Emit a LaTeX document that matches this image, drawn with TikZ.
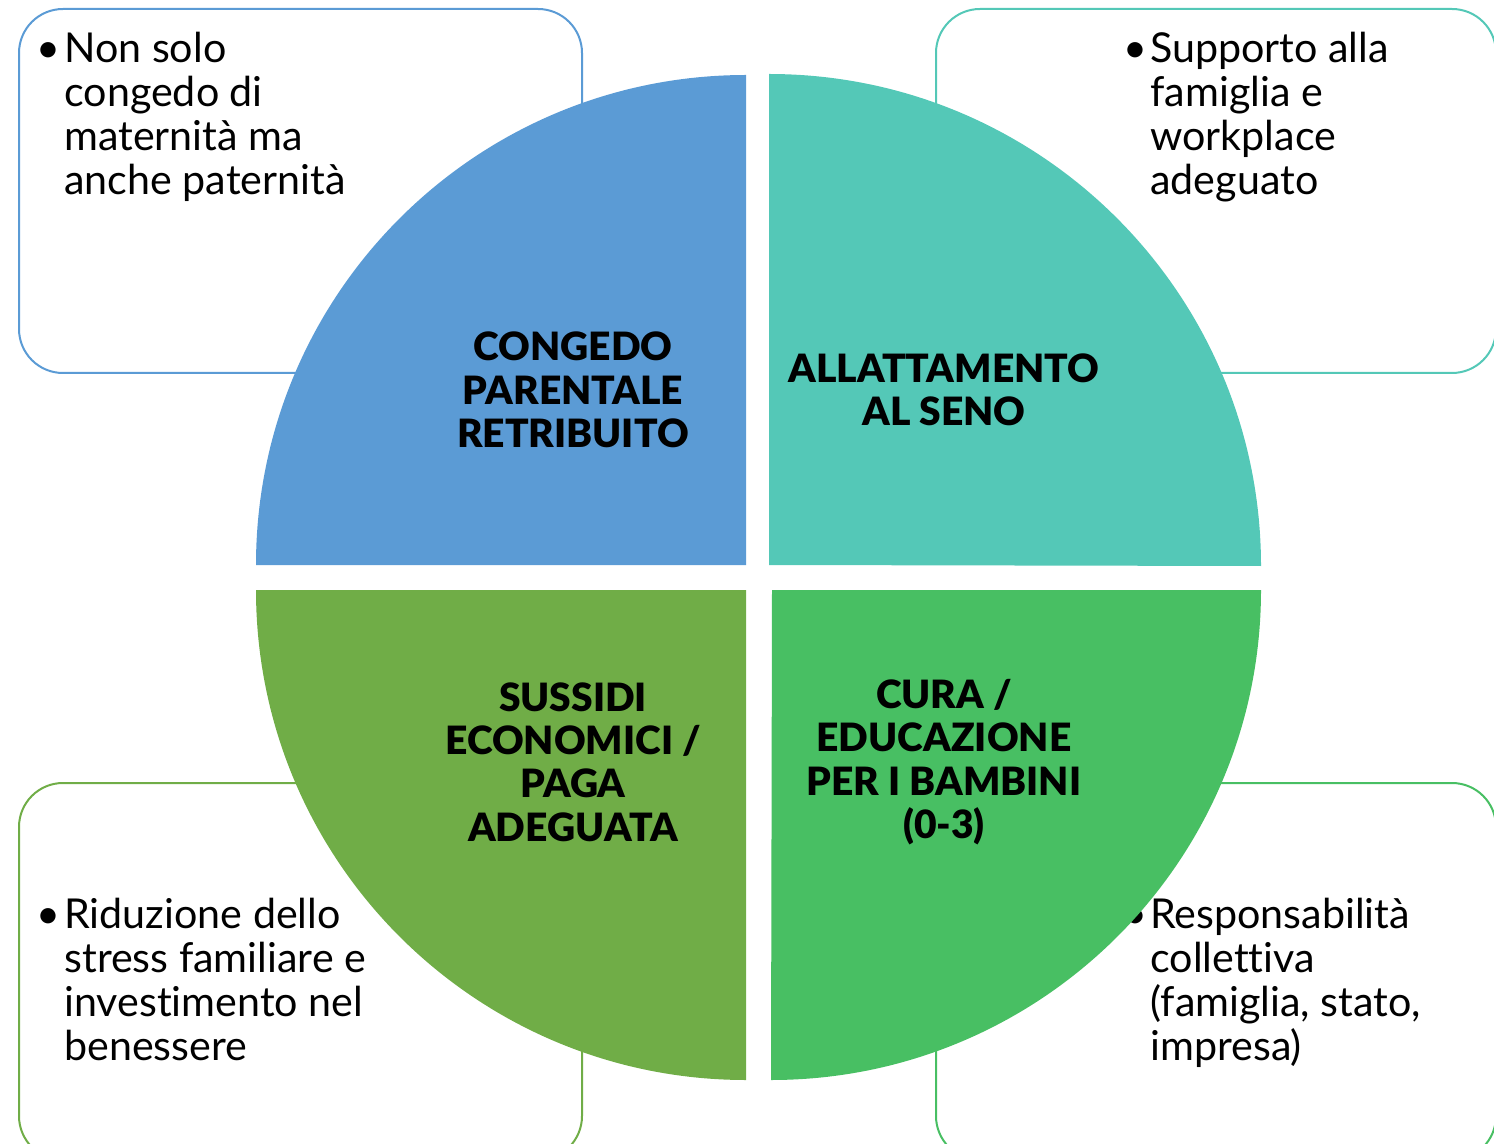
\documentclass[tikz,border=0pt]{standalone}
\usepackage{fontspec}
\setmainfont{Lato}[Ligatures=NoCommon,BoldFont={Lato Black}]
\definecolor{cblue}{RGB}{91,155,213}
\definecolor{cteal}{RGB}{84,200,183}
\definecolor{colive}{RGB}{112,173,71}
\definecolor{cgreen}{RGB}{72,191,99}
\begin{document}
\begin{tikzpicture}[x=0.5pt,y=-0.5pt,
  box/.style={line width=1pt,rounded corners=22pt},
  body/.style={anchor=base west,align=left,inner sep=0pt,font=\fontsize{20.6pt}{22pt}\selectfont},
  bul/.style={anchor=base,inner sep=0pt,font=\fontsize{20.6pt}{22pt}\selectfont},
  lab/.style={align=center,inner sep=0pt,font=\bfseries\fontsize{19.5pt}{21.7pt}\selectfont}]
\useasboundingbox (0,0) rectangle (1494,1144);
\clip (0,0) rectangle (1494,1144);
% boxes
\draw[box,cblue] (19,9) rectangle (582,373);
\draw[box,cteal] (936,9) rectangle (1496,373);
\draw[box,colive] (19,783) rectangle (582,1160);
\draw[box,cgreen] (936,783) rectangle (1496,1160);
% body texts
\node[bul] (b1) at (48,63) {•};
\node[body] (t1) at (64,195) {Non solo\\congedo di\\maternità ma\\anche paternità};
\node[bul] (b2) at (1135,63) {•};
\node[body] (t2) at (1150,195) {Supporto alla\\famiglia e\\workplace\\adeguato};
\node[bul] (b3) at (48,928) {•};
\node[body] (t3) at (64,1060) {Riduzione dello\\stress familiare e\\investimento nel\\benessere};
\node[bul] (b4) at (1135,928) {•};
\node[body] (t4) at (1150,1060) {Responsabilità\\collettiva\\(famiglia, stato,\\impresa)};
% sectors
\fill[cblue] (746,565) -- (256,565) arc[start angle=180,end angle=270,radius=490] -- cycle;
\fill[cteal] (769,565) -- (769,74) arc[start angle=270,end angle=360,radius=492] -- cycle;
\fill[colive] (746,590) -- (746,1080) arc[start angle=90,end angle=180,radius=490] -- cycle;
\fill[cgreen] (772,590) -- (1261,590) arc[start angle=0,end angle=90,radius=490] -- cycle;
% labels
\node[lab] (l1) at (573,390) {CONGEDO\\PARENTALE\\RETRIBUITO};
\node[lab] (l2) at (944,390) {ALLATTAMENTO\\AL SENO};
\node[lab] (l3) at (573,762) {SUSSIDI\\ECONOMICI /\\PAGA\\ADEGUATA};
\node[lab] (l4) at (944,762) {CURA /\\EDUCAZIONE\\PER I BAMBINI\\(0-3)};
\end{tikzpicture}
\end{document}
